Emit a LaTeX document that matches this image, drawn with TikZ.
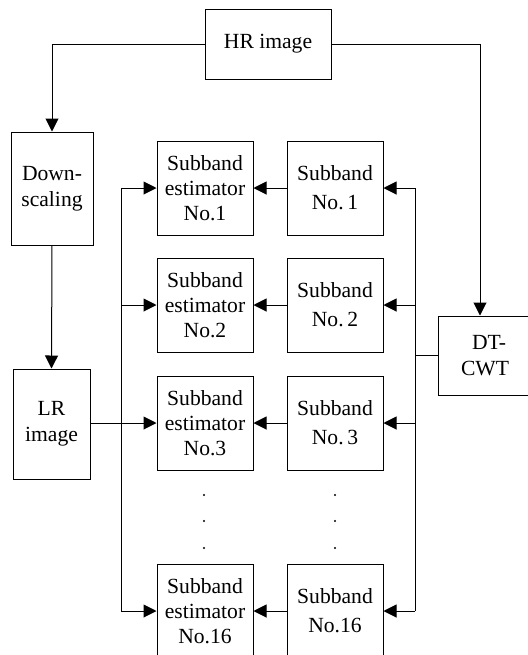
\documentclass[tikz,border=0pt]{standalone}
\usepackage{fontspec}
\setmainfont{Liberation Serif}
\usetikzlibrary{arrows.meta}
\begin{document}
\begin{tikzpicture}[x=0.5pt,y=-0.5pt,>={Triangle[length=6.5pt,width=6.5pt]},line width=0.5pt,
    every node/.style={draw,shape=rectangle,align=center,inner sep=0pt,font=\fontsize{10.8}{13}\selectfont},
    estbox/.style={minimum width=48pt,minimum height=47pt,font=\fontsize{10.8}{12.5}\selectfont},
    subbox/.style={minimum width=48pt,minimum height=47pt,font=\fontsize{10.8}{14.5}\selectfont}]
    \useasboundingbox (0,0) rectangle (528,655);
    \node[minimum width=63pt,minimum height=35pt] (hr) at (268,44) {HR image};
    \node[minimum width=41pt,minimum height=56.5pt] (down) at (52,188.5) {Down-\\scaling};
    \node[minimum width=38.5pt,minimum height=55pt] (lr) at (51.5,424) {LR\\image};
    \node[minimum width=51pt,minimum height=39.5pt] (dt) at (489,355.5) {DT-\\CWT\hspace*{4pt}};
    % rows of subbands and estimators
    \foreach \i/\y/\s in {1/188/No.\,1,2/305/No.\,2,3/423/No.\,3,16/611/No.16}{
        \node[estbox] (est\i) at (205,\y) {Subband\\estimator\\No.\i};
        \node[subbox] (sub\i) at (335,\y) {Subband\\\s};
        \coordinate (l\i) at (121,\y);
        \coordinate (r\i) at (415,\y);
        \draw[->] (l\i) -- (est\i.west);
        \draw[->] (sub\i.west) -- (est\i.east);
        \draw[->] (r\i) -- (sub\i.east);
    }
    \draw (l1) -- (l16);
    \draw (r1) -- (r16);
    \draw[->] (hr.west) -| (down.north);
    \draw[->] (hr.east) -| ([xshift=-4.5pt]dt.north);
    \draw[->] (down.south) -- (lr.north);
    \draw (lr.east |- l3) -- (l3);
    \draw (dt.west) -- (dt.west -| r1);
    % dots
    \foreach \y in {495,521,548}{
        \fill (204,\y) circle (0.6pt);
        \fill (335,\y) circle (0.6pt);
    }
\end{tikzpicture}
\end{document}
